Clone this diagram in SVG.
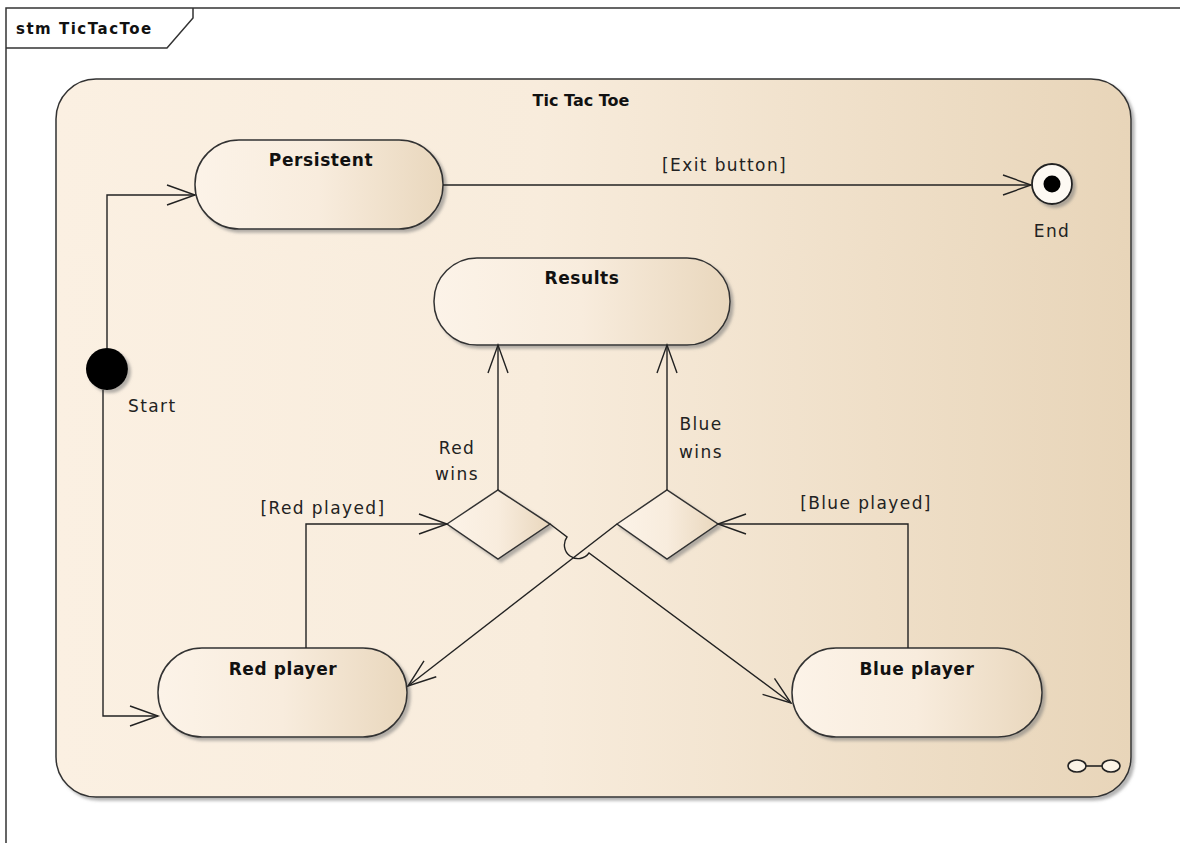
<svg xmlns="http://www.w3.org/2000/svg" width="1180" height="843" viewBox="0 0 1180 843">
  <style>
    .frame { fill: none; stroke: #333; stroke-width: 1.5; }
    .state { stroke: #333; stroke-width: 1.5; filter: url(#shadow); }
    .title { font-family: "DejaVu Sans", "Liberation Sans", sans-serif; font-weight: bold; font-size: 17px; letter-spacing: 0.6px; fill: #111; text-anchor: middle; }
    .label { font-family: "DejaVu Sans", "Liberation Sans", sans-serif; font-size: 17px; letter-spacing: 1.4px; fill: #222; }
    .conn path { fill: none; stroke: #222; stroke-width: 1.4; }
  </style>
  <defs>
    <linearGradient id="gContainer" x1="0" y1="0" x2="1" y2="0">
      <stop offset="0" stop-color="#fbf0e2"/>
      <stop offset="0.45" stop-color="#f8ecdc"/>
      <stop offset="1" stop-color="#e8d5b9"/>
    </linearGradient>
    <linearGradient id="gState" x1="0" y1="0" x2="1" y2="0">
      <stop offset="0" stop-color="#fcf3e8"/>
      <stop offset="0.5" stop-color="#f8ecdd"/>
      <stop offset="1" stop-color="#e9d7bd"/>
    </linearGradient>
    <filter id="shadow" x="-10%" y="-10%" width="125%" height="130%">
      <feDropShadow dx="3" dy="3" stdDeviation="1.5" flood-color="#777" flood-opacity="0.55"/>
    </filter>
    <marker id="arrow" markerUnits="userSpaceOnUse" markerWidth="32" markerHeight="24" refX="29" refY="12" orient="auto">
      <path d="M1,2 L29,12 L1,22" fill="none" stroke="#222" stroke-width="1.4"/>
    </marker>
  </defs>

  <!-- diagram frame -->
  <g id="frame">
    <path class="frame" d="M6,843 L6,8 L1180,8"/>
    <path class="frame" d="M6,48 L167,48 L193,18 L193,8"/>
    <text x="16" y="34" style="font-family: 'DejaVu Sans', 'Liberation Sans', sans-serif; font-weight: bold; font-size: 15px; letter-spacing: 1.5px; fill: #111;">stm TicTacToe</text>
  </g>

  <!-- composite state -->
  <g id="TicTacToe">
    <rect class="state" x="56" y="79" width="1075" height="718" rx="40" ry="40" fill="url(#gContainer)"/>
    <text x="581" y="106" style="font-family: 'DejaVu Sans', 'Liberation Sans', sans-serif; font-weight: bold; font-size: 16px; fill: #111; text-anchor: middle;">Tic Tac Toe</text>
    <g id="glasses" fill="#fbf3e6" stroke="#222" stroke-width="1.6">
      <ellipse cx="1077" cy="766" rx="9" ry="6"/>
      <ellipse cx="1111" cy="766" rx="9" ry="6"/>
      <path d="M1086,766 L1102,766"/>
    </g>
  </g>

  <g id="Persistent">
    <rect class="state" x="195" y="140" width="248" height="89" rx="44" ry="44" fill="url(#gState)"/>
    <text class="title" x="321" y="166">Persistent</text>
  </g>

  <g id="Results">
    <rect class="state" x="434" y="258" width="296" height="87" rx="43" ry="43" fill="url(#gState)"/>
    <text class="title" x="582" y="284">Results</text>
  </g>

  <g id="RedPlayer">
    <rect class="state" x="158" y="648" width="249" height="89" rx="44" ry="44" fill="url(#gState)"/>
    <text class="title" x="283" y="675">Red player</text>
  </g>

  <g id="BluePlayer">
    <rect class="state" x="792" y="648" width="250" height="89" rx="44" ry="44" fill="url(#gState)"/>
    <text class="title" x="917" y="675">Blue player</text>
  </g>

  <g id="RedDecision">
    <polygon class="state" points="447,524 498,490 550,524 498,559" fill="url(#gState)"/>
  </g>

  <g id="BlueDecision">
    <polygon class="state" points="617,524 667,490 718,524 667,559" fill="url(#gState)"/>
  </g>

  <g id="Start">
    <circle cx="107" cy="369" r="21" fill="#000" filter="url(#shadow)"/>
    <text class="label" x="128" y="412">Start</text>
  </g>

  <g id="End">
    <circle cx="1052" cy="184" r="20" fill="#fdf9f3" stroke="#222" stroke-width="1.8" filter="url(#shadow)"/>
    <circle cx="1052" cy="184" r="8.5" fill="#000"/>
    <text class="label" x="1052" y="237" text-anchor="middle">End</text>
  </g>

  <!-- connectors -->
  <g id="connectors" class="conn">
    <path d="M107,348 L107,195 L195,195" marker-end="url(#arrow)"/>
    <path d="M103,390 L103,716 L158,716" marker-end="url(#arrow)"/>
    <path d="M443,185 L1031,185" marker-end="url(#arrow)"/>
    <path d="M498,490 L498,345" marker-end="url(#arrow)"/>
    <path d="M667,490 L667,345" marker-end="url(#arrow)"/>
    <path d="M306,648 L306,524 L447,524" marker-end="url(#arrow)"/>
    <path d="M908,648 L908,524 L718,524" marker-end="url(#arrow)"/>
    <path d="M550,524 L567,537 A13,13 0 0 0 589,553 L791,703" marker-end="url(#arrow)"/>
    <path d="M617,524 L408,686" marker-end="url(#arrow)"/>
  </g>

  <g id="connector-labels">
    <text class="label" x="662" y="171">[Exit button]</text>
    <text class="label" x="457" y="454" text-anchor="middle">Red</text>
    <text class="label" x="457" y="480" text-anchor="middle">wins</text>
    <text class="label" x="701" y="430" text-anchor="middle">Blue</text>
    <text class="label" x="701" y="458" text-anchor="middle">wins</text>
    <text class="label" x="323" y="514" text-anchor="middle">[Red played]</text>
    <text class="label" x="866" y="509" text-anchor="middle">[Blue played]</text>
  </g>
</svg>
